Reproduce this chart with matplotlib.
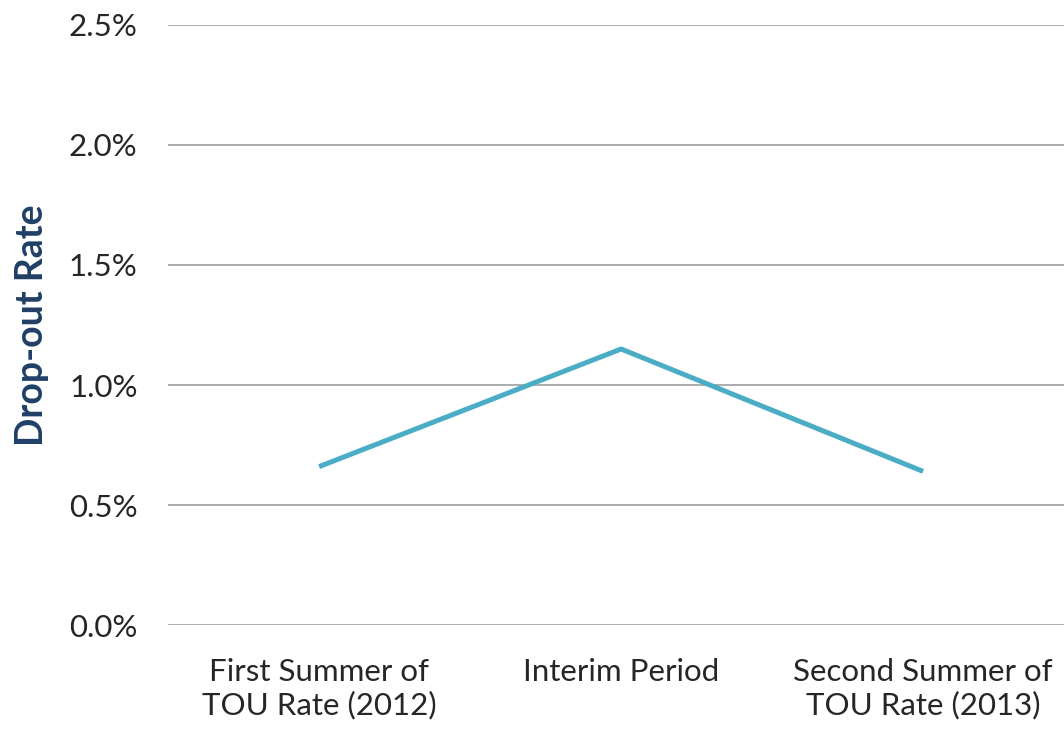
import matplotlib.pyplot as plt
from matplotlib.ticker import FuncFormatter

periods = ["First Summer of\nTOU Rate (2012)", "Interim Period", "Second Summer of\nTOU Rate (2013)"]
dropout_rate = [0.0066, 0.0115, 0.0064]
y_ticks = [0.0, 0.005, 0.010, 0.015, 0.020, 0.025]

plt.rcParams['font.family'] = ['Lato', 'DejaVu Sans']

fig = plt.figure(figsize=(10.64, 7.3), dpi=100)
ax = fig.add_axes([0.158, 0.1438, 0.8515, 0.822])

x = [0.5, 1.5, 2.5]
ax.plot(x, dropout_rate, color='#4BACC6', lw=3.6, solid_capstyle='butt', zorder=3)

ax.set_xlim(0, 3)
ax.set_ylim(0, 0.025)
ax.set_yticks(y_ticks)
ax.yaxis.set_major_formatter(FuncFormatter(lambda v, _: f"{v*100:.1f}%"))
ax.set_xticks(x)
ax.set_xticklabels(periods)
ax.grid(axis='y', color='#A6A6A6', lw=1.3)
ax.set_axisbelow(True)

for s in ax.spines.values():
    s.set_visible(False)
ax.tick_params(axis='both', length=0, labelsize=22.5, colors='#262626')
ax.tick_params(axis='y', pad=22)
ax.tick_params(axis='x', pad=24)
for lbl in ax.get_xticklabels():
    lbl.set_linespacing(1.2)

ax.set_ylabel("Drop-out Rate", fontsize=27, fontweight='bold', color='#1F3F66', labelpad=14)

fig.savefig("out.png", dpi=100)
